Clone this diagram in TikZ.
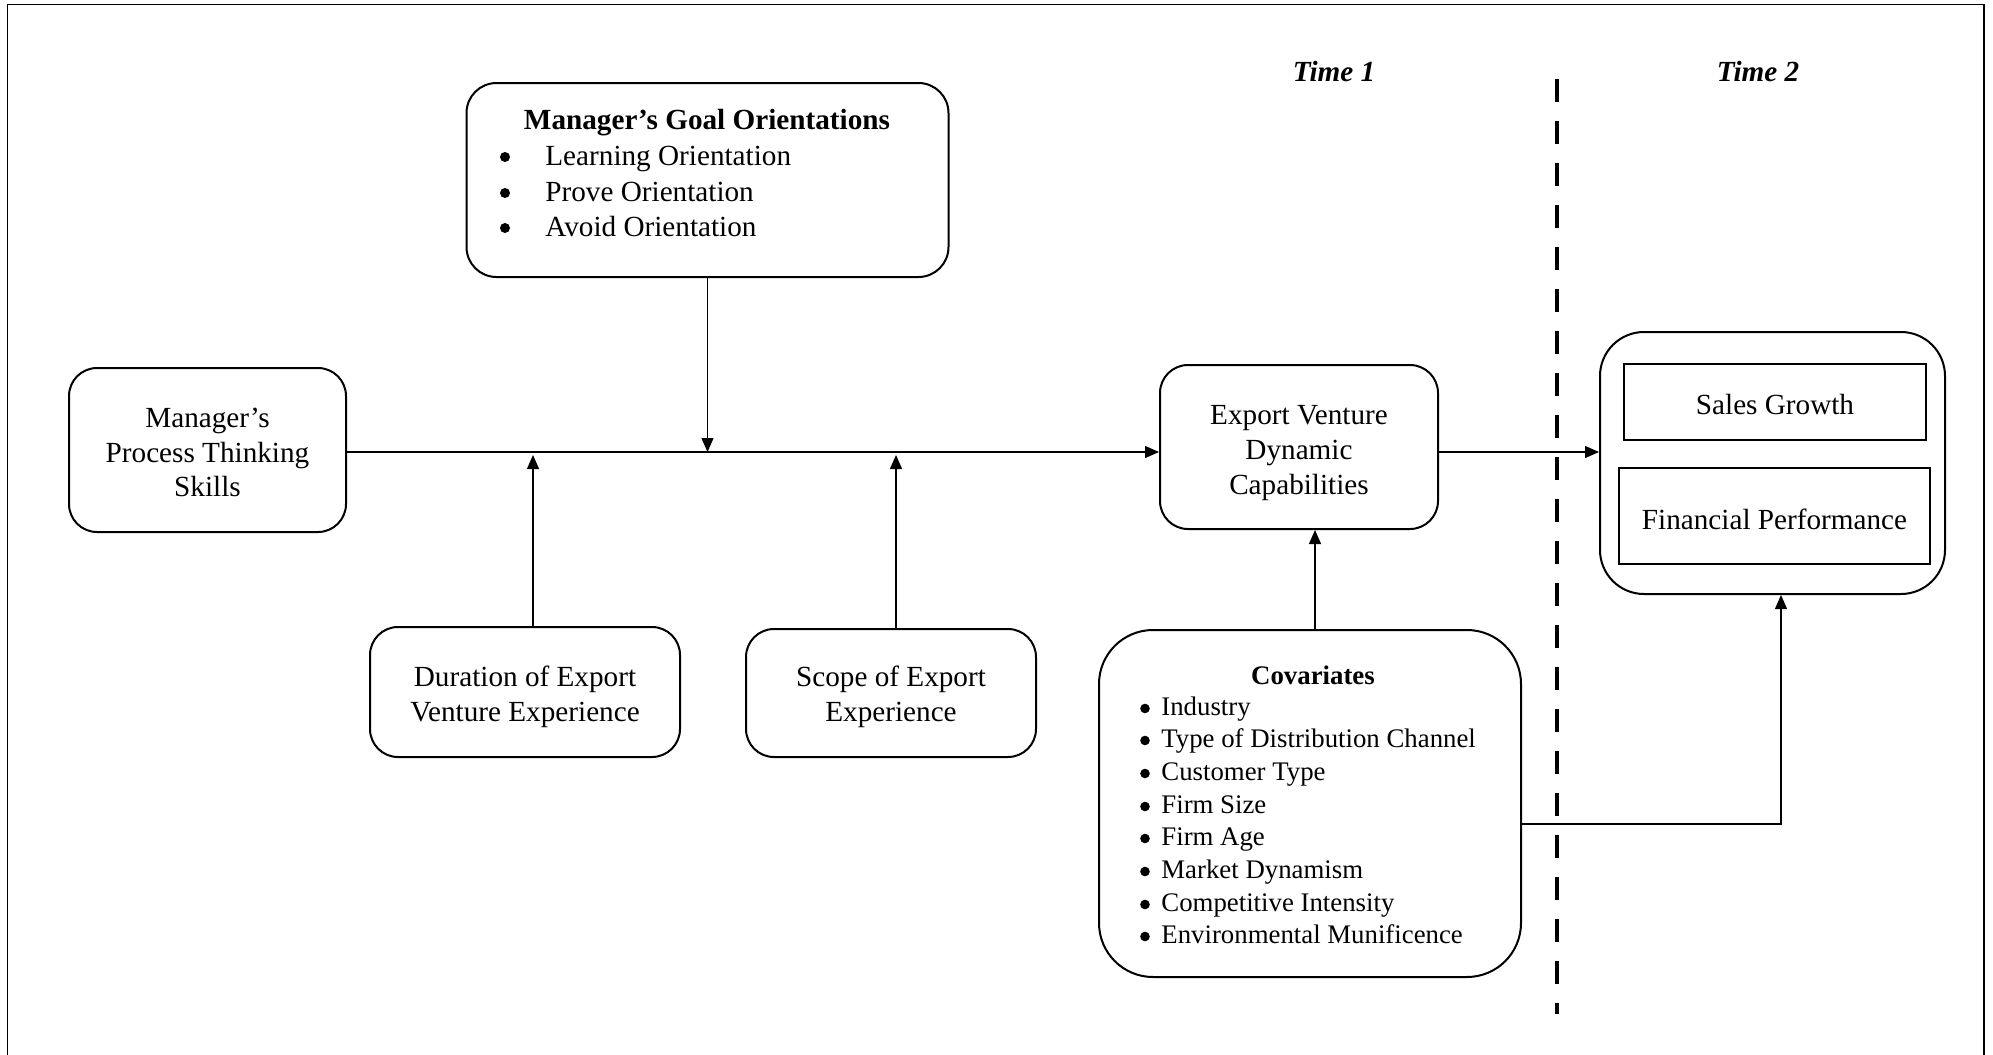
\documentclass[tikz,border=0pt]{standalone}
\usepackage{fontspec}
\setmainfont{Liberation Serif}
\usetikzlibrary{arrows.meta}
\newcommand\mfsz{\fontsize{14.6pt}{17.3pt}\selectfont}
\newcommand\cfsz{\fontsize{13.4pt}{16.35pt}\selectfont}
\begin{document}
\begin{tikzpicture}[x=0.5pt,y=-0.5pt,
  rbox/.style={draw, line width=1pt, rounded corners=14pt, inner sep=0pt},
  sbox/.style={draw, line width=1.3pt, inner sep=0pt},
  tx/.style={align=center, inner sep=0pt, font=\mfsz},
  arr/.style={-{Triangle[length=7pt,width=6pt]}, line width=0.6pt},
  txt/.style={inner sep=0pt, anchor=base west}
]
\useasboundingbox (0,0) rectangle (1993,1055);
\draw[line width=0.8pt] (7.5,1080) -- (7.5,4.5) -- (1984,4.5) -- (1984,1080);

% boxes
\node[rbox, minimum width=138.5pt, minimum height=82pt] (proc) at (207.5,450) {};
\node[tx] (proct) at (207.5,452.5) {Manager’s\\Process Thinking\\Skills};
\node[rbox, rounded corners=15pt, minimum width=241pt, minimum height=97pt] (goal) at (707.5,180) {};
\node[rbox, minimum width=155pt, minimum height=65pt] (dur) at (525,692) {};
\node[tx] (durt) at (525,697) {Duration of Export\\Venture Experience};
\node[rbox, minimum width=145pt, minimum height=64pt] (scope) at (891,693) {};
\node[tx] (scopet) at (891,697) {Scope of Export\\Experience};
\node[rbox, minimum width=139pt, minimum height=82pt] (evdc) at (1299,447) {};
\node[tx] (evdct) at (1299,453) {Export Venture\\Dynamic\\Capabilities};
\node[rbox, rounded corners=27pt, minimum width=211pt, minimum height=173.5pt] (cov) at (1310,803.5) {};
\node[rbox, rounded corners=22pt, minimum width=172.5pt, minimum height=131pt] (out) at (1772.5,463) {};
\node[sbox, minimum width=151pt, minimum height=38pt] (sales) at (1775,402) {};
\node[tx] (salest) at (1775,405) {Sales Growth};
\node[sbox, minimum width=155.5pt, minimum height=48pt] (fin) at (1774.5,516) {};
\node[tx] (fint) at (1774.5,519) {Financial Performance};

% goal orientations text
\node[inner sep=0pt, anchor=base, font=\mfsz\bfseries] (gtitle) at (707,129) {Manager’s Goal Orientations};
\foreach \i/\t/\y in {1/Learning Orientation/165, 2/Prove Orientation/201, 3/Avoid Orientation/236}{
  \fill (505,\y-8) circle[radius=2.5pt];
  \node[txt, font=\mfsz] (gi\i) at (545,\y) {\t};
}

% covariates text
\node[inner sep=0pt, anchor=base, font=\cfsz\bfseries] (ctitle) at (1313,684) {Covariates};
\foreach \i/\t/\y in {1/Industry/715, 2/Type of Distribution Channel/747, 3/Customer Type/780, 4/Firm Size/813, 5/Firm Age/845, 6/Market Dynamism/878, 7/Competitive Intensity/911, 8/Environmental Munificence/943}{
  \fill (1145,\y-6.5) circle[radius=2.4pt];
  \node[txt, font=\cfsz] (ci\i) at (1161,\y) {\t};
}

% time labels
\node[inner sep=0pt, font=\mfsz\bfseries\itshape] (t1) at (1334,72) {Time 1};
\node[inner sep=0pt, font=\mfsz\bfseries\itshape] (t2) at (1758,72) {Time 2};

% dashed divider
\coordinate (dtop) at (1557,79);
\coordinate (dbot) at (1557,1014);
\draw[line width=2pt, dash pattern=on 11.5pt off 9.5pt] (dtop) -- (dbot);

% connectors
\coordinate (m) at (0,452);
\coordinate (mb) at (0,455);
\coordinate (dx) at (533,0);
\coordinate (sx) at (896,0);
\coordinate (cx) at (1315,0);
\coordinate (cr) at (1781,824);
\draw[arr] (proc.east |- m) -- (evdc.west |- m);
\draw[arr] (goal.south) -- (goal.south |- m);
\draw[arr] (dx |- dur.north) -- (dx |- mb);
\draw[arr] (sx |- scope.north) -- (sx |- mb);
\draw[arr] (cx |- cov.north) -- (cx |- evdc.south);
\draw[arr] (evdc.east |- m) -- (out.west |- m);
\draw[arr] (cov.east |- cr) -| (cr |- out.south);
\end{tikzpicture}
\end{document}
